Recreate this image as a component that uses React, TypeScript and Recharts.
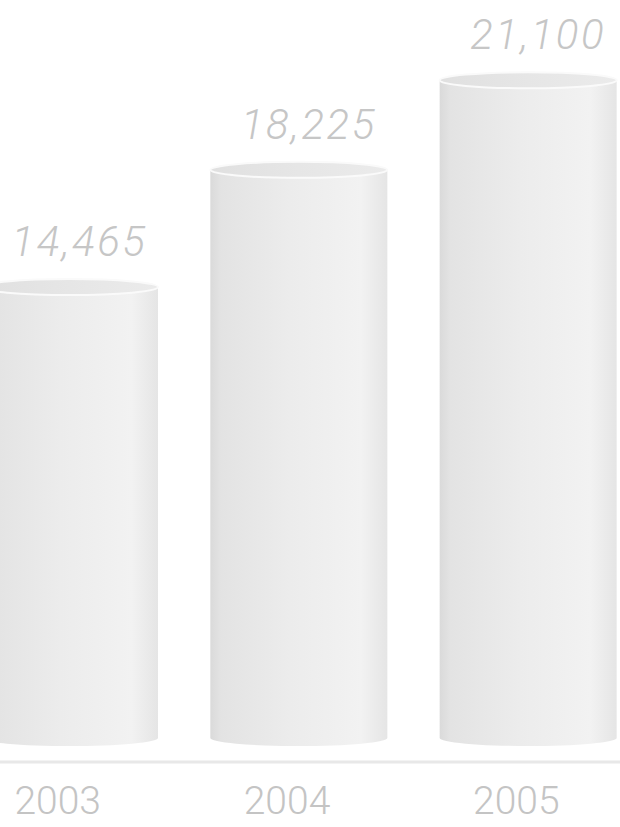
import React from 'react';
import { BarChart, Bar, XAxis, YAxis } from 'recharts';

const years = ['2003', '2004', '2005'];
const sales = [14465, 18225, 21100];

const data = years.map((year, i) => ({ year, sales: sales[i] }));

const FONT = 'Roboto, "Liberation Sans", Arial, sans-serif';

const Cylinder = (props: any) => {
  const { x, y, width, height } = props;
  const rx = width / 2;
  const ry = 8;
  const cx = x + rx;
  const bottom = y + height;
  const body = `M${x},${y} L${x},${bottom} A${rx},${ry} 0 0 0 ${x + width},${bottom} L${x + width},${y} Z`;
  return (
    <g>
      <path d={body} fill="url(#cylBody)" />
      <ellipse cx={cx} cy={y} rx={rx} ry={ry} fill="url(#cylTop)" stroke="#fafafa" strokeWidth={2} />
    </g>
  );
};

const ValueLabel = (props: any) => {
  const { x, y, width, value } = props;
  return (
    <text
      x={x + width / 2 + 10}
      y={y - 31}
      textAnchor="middle"
      fontFamily={FONT}
      fontStyle="italic"
      fontWeight={300}
      fontSize={42}
      letterSpacing={2.5}
      fill="#c6c6c6"
    >
      {value.toLocaleString('en-US')}
    </text>
  );
};

const YearTick = (props: any) => {
  const { x, y, payload } = props;
  return (
    <text x={x - 12} y={y + 52} textAnchor="middle" fontFamily={FONT} fontWeight={300} fontSize={39} fill="#c4c4c4">
      {payload.value}
    </text>
  );
};

export default function App() {
  return (
    <div style={{ position: 'absolute', left: 0, top: 0, width: 620, height: 827, overflow: 'hidden', background: '#fff' }}>
      <div style={{ position: 'absolute', left: -45, top: 0 }}>
        <BarChart width={688} height={827} data={data} margin={{ top: 0, right: 0, bottom: 0, left: 0 }} barSize={177}>
          <defs>
            <linearGradient id="cylBody" x1="0" y1="0" x2="1" y2="0">
              <stop offset="0" stopColor="#dadada" />
              <stop offset="0.06" stopColor="#e3e3e3" />
              <stop offset="0.45" stopColor="#ececec" />
              <stop offset="0.85" stopColor="#f2f2f2" />
              <stop offset="1" stopColor="#e5e5e5" />
            </linearGradient>
            <linearGradient id="cylTop" x1="0" y1="0" x2="1" y2="0">
              <stop offset="0" stopColor="#e0e0e0" />
              <stop offset="0.5" stopColor="#e6e6e6" />
              <stop offset="1" stopColor="#ebebeb" />
            </linearGradient>
          </defs>
          <XAxis
            dataKey="year"
            height={65}
            axisLine={{ stroke: '#e8e8e8', strokeWidth: 3 }}
            tickLine={false}
            tickSize={0}
            tickMargin={0}
            tick={<YearTick />}
            interval={0}
          />
          <YAxis hide domain={[-770, 23674]} />
          <Bar dataKey="sales" shape={<Cylinder />} label={<ValueLabel />} isAnimationActive={false} />
        </BarChart>
      </div>
    </div>
  );
}
